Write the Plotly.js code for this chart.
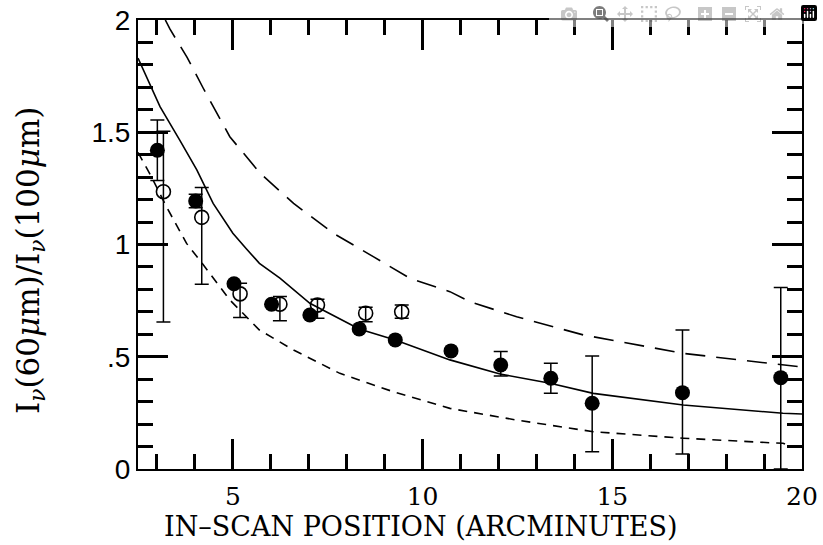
<!DOCTYPE html>
<html>
<head>
<meta charset="utf-8">
<script src="https://cdn.plot.ly/plotly-3.0.1.min.js"></script>
<style>html,body{margin:0;padding:0;background:#fff;}#chart{width:823px;height:545px;}</style>
</head>
<body>
<div id="chart"></div>
<script>
// Filled circles (measured ratio) with error bars
const filledX = [3.01, 4.02, 5.03, 6.02, 7.03, 8.33, 9.28, 10.75, 12.06, 13.38, 14.47, 16.85, 19.44];
const filledY = [1.42, 1.194, 0.825, 0.734, 0.686, 0.624, 0.575, 0.526, 0.463, 0.404, 0.293, 0.34, 0.407];
const filledErrPlus = [0.135, 0.03, 0, 0, 0, 0, 0, 0.01, 0.06, 0.067, 0.21, 0.279, 0.402];
const filledErrMinus = [0.135, 0.03, 0, 0, 0, 0, 0, 0.01, 0.049, 0.067, 0.216, 0.273, 0.407];

// Open circles with error bars
const openX = [3.17, 4.18, 5.19, 6.24, 7.23, 8.5, 9.45];
const openY = [1.235, 1.121, 0.78, 0.734, 0.73, 0.694, 0.70];
const openErrPlus = [0.27, 0.133, 0.047, 0.034, 0.026, 0.026, 0.03];
const openErrMinus = [0.58, 0.298, 0.105, 0.074, 0.059, 0.038, 0.028];

// Model curves
const solidX = [2.5, 2.8, 3.08, 3.6, 4.05, 4.48, 5.0, 5.36, 5.7, 6.24, 7.03, 8.33, 9.28, 10.72, 12.04, 13.36, 14.5, 16.87, 19.5, 20];
const solidY = [1.83, 1.72, 1.614, 1.465, 1.332, 1.183, 1.05, 0.98, 0.916, 0.85, 0.738, 0.624, 0.575, 0.486, 0.423, 0.382, 0.337, 0.285, 0.248, 0.245];

const longDashX = [3.22, 3.34, 3.79, 4.22, 4.92, 5.72, 6.6, 7.65, 8.7, 9.67, 10.72, 11.25, 12.48, 14.24, 16.87, 19.9];
const longDashY = [2.0, 1.96, 1.835, 1.696, 1.48, 1.317, 1.183, 1.05, 0.946, 0.849, 0.79, 0.745, 0.678, 0.597, 0.515, 0.456];

const shortDashX = [2.5, 2.86, 3.25, 3.78, 4.22, 4.92, 5.7, 6.6, 7.82, 9.23, 10.72, 12.48, 14.5, 16.87, 19.16, 19.5, 19.7, 20];
const shortDashY = [1.41, 1.30, 1.168, 1.005, 0.91, 0.753, 0.619, 0.53, 0.426, 0.344, 0.27, 0.218, 0.166, 0.137, 0.117, 0.115, 0.10, 0.10];

// Axis text and ranges
const xTitle = 'IN–SCAN POSITION (ARCMINUTES)';
const yTitle = 'I<sub><i>ν</i></sub>(60<i>μ</i>m)/I<sub><i>ν</i></sub>(100<i>μ</i>m)';
const xRange = [2.5, 20];
const yRange = [0, 2];

const traces = [
  {x: solidX, y: solidY, mode: 'lines', line: {color: '#000', width: 1.6}, hoverinfo: 'skip'},
  {x: longDashX, y: longDashY, mode: 'lines', line: {color: '#000', width: 1.6, dash: '20px,11px'}, hoverinfo: 'skip'},
  {x: shortDashX, y: shortDashY, mode: 'lines', line: {color: '#000', width: 1.6, dash: '9px,7px'}, hoverinfo: 'skip'},
  {x: openX, y: openY, mode: 'markers',
   marker: {symbol: 'circle-open', size: 14, color: '#000', line: {width: 1.6, color: '#000'}},
   error_y: {type: 'data', symmetric: false, array: openErrPlus, arrayminus: openErrMinus, color: '#000', thickness: 1.5, width: 7}},
  {x: filledX, y: filledY, mode: 'markers',
   marker: {symbol: 'circle', size: 15, color: '#000'},
   error_y: {type: 'data', symmetric: false, array: filledErrPlus, arrayminus: filledErrMinus, color: '#000', thickness: 1.5, width: 7}},
  // empty trace that activates the overlay axes carrying the short ticks
  {x: [], y: [], xaxis: 'x2', yaxis: 'y2', mode: 'markers', hoverinfo: 'skip'}
];

const layout = {
  width: 823, height: 545,
  margin: {l: 138, r: 21, t: 20, b: 76},
  showlegend: false,
  xaxis: {
    range: xRange, tickmode: 'linear', tick0: 0, dtick: 5,
    ticks: 'inside', ticklen: 30, tickwidth: 3, tickcolor: '#000',
    showline: true, linewidth: 2, linecolor: '#000', mirror: 'allticks',
    showgrid: false, zeroline: false,
    tickfont: {family: 'DejaVu Serif', size: 25, color: '#000'},
    ticklabelstandoff: 4
  },
  yaxis: {
    range: yRange, tickmode: 'linear', tick0: 0, dtick: 0.5,
    labelalias: {'0.5': '.5'},
    ticks: 'inside', ticklen: 30, tickwidth: 3, tickcolor: '#000',
    showline: true, linewidth: 2, linecolor: '#000', mirror: 'allticks',
    showgrid: false, zeroline: false,
    tickfont: {family: 'Liberation Sans', size: 28, color: '#000'}
  },
  xaxis2: {
    overlaying: 'x', anchor: 'y', side: 'bottom', range: xRange,
    tickmode: 'linear', tick0: 0, dtick: 1,
    ticks: 'inside', ticklen: 15, tickwidth: 3, tickcolor: '#000',
    showline: false, mirror: 'allticks',
    showticklabels: false, showgrid: false, zeroline: false
  },
  yaxis2: {
    overlaying: 'y', anchor: 'x', side: 'left', range: yRange,
    tickmode: 'linear', tick0: 0, dtick: 0.1,
    ticks: 'inside', ticklen: 15, tickwidth: 3, tickcolor: '#000',
    showline: false, mirror: 'allticks',
    showticklabels: false, showgrid: false, zeroline: false
  },
  annotations: [
    {text: xTitle, xref: 'paper', yref: 'paper', x: 0.426, y: -0.128, xanchor: 'center', yanchor: 'middle',
     borderpad: 0, showarrow: false, font: {family: 'DejaVu Serif', size: 27, color: '#000'}},
    {text: yTitle, xref: 'paper', yref: 'paper', x: -0.163, y: 0.465, xanchor: 'center', yanchor: 'middle',
     textangle: -90, showarrow: false, font: {family: 'DejaVu Serif', size: 31, color: '#000'}}
  ]
};

Plotly.newPlot('chart', traces, layout);
</script>
</body>
</html>
